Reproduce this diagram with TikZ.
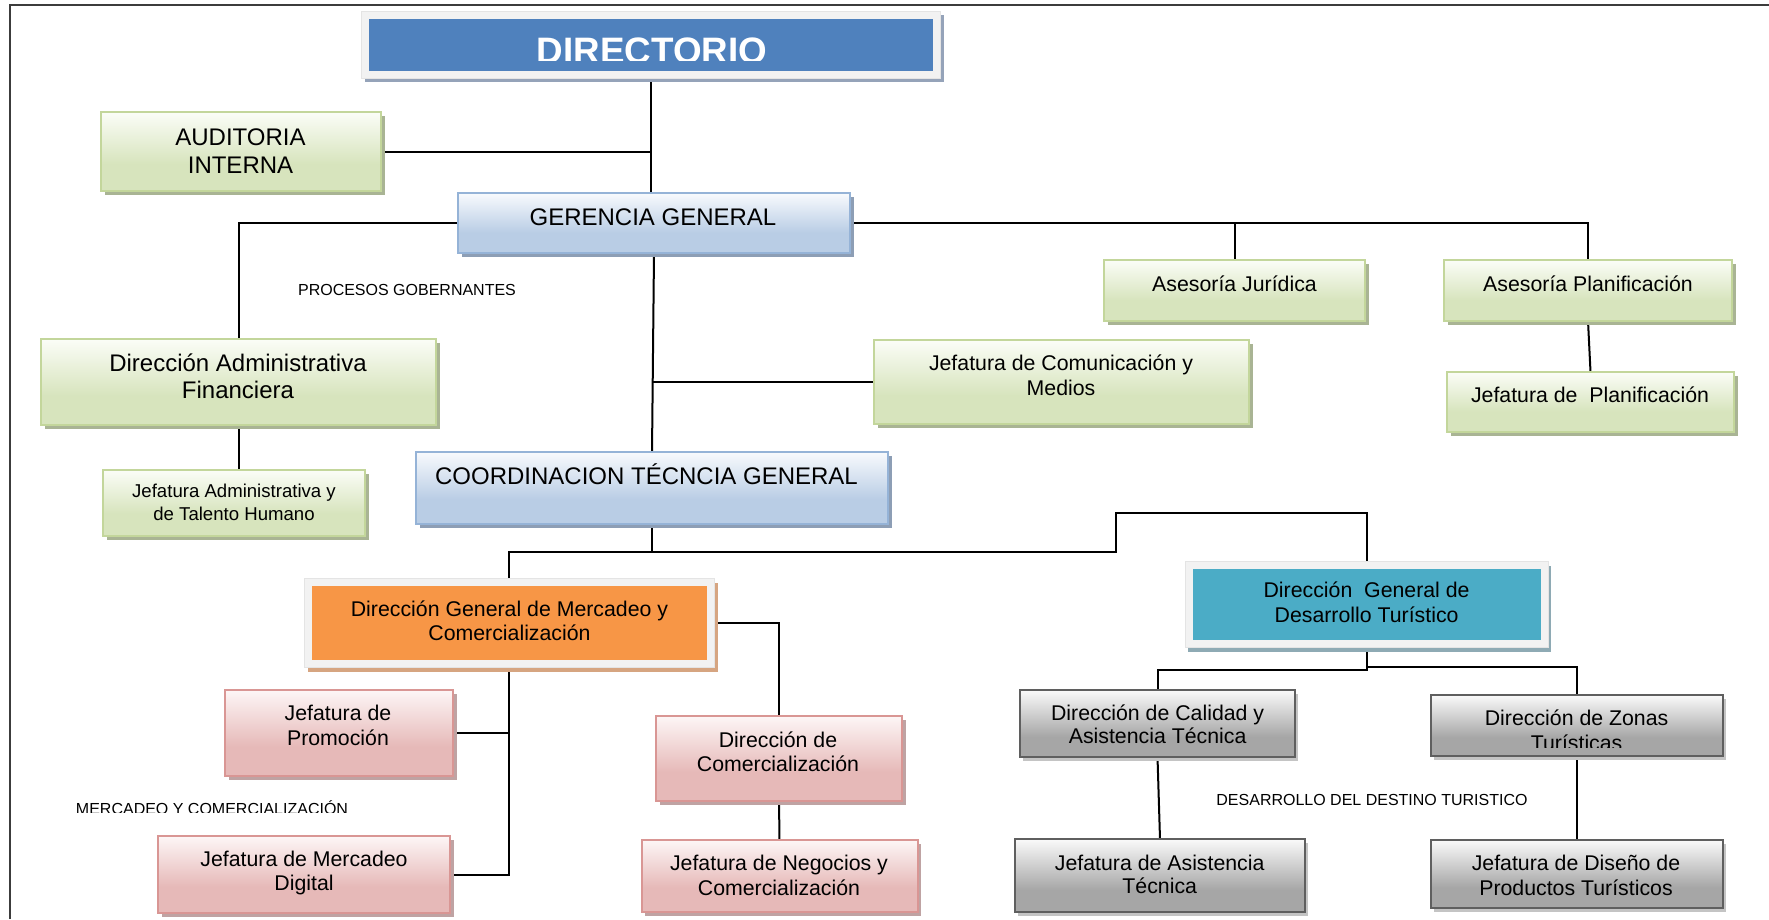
\documentclass[tikz,border=0pt]{standalone}
\usepackage{fontspec}
\setmainfont{Liberation Sans}
\usetikzlibrary{shadows}
\definecolor{grnB}{HTML}{C3D69B}\definecolor{grnF}{HTML}{D7E4BD}\definecolor{grnT}{HTML}{FBFDF7}\definecolor{grnS}{HTML}{A9B494}
\definecolor{bluB}{HTML}{95B3D7}\definecolor{bluF}{HTML}{B9CDE5}\definecolor{bluT}{HTML}{F8FAFD}\definecolor{bluS}{HTML}{8D9EB5}
\definecolor{pnkB}{HTML}{D99694}\definecolor{pnkF}{HTML}{E6B9B8}\definecolor{pnkT}{HTML}{FDF6F6}\definecolor{pnkS}{HTML}{BFA3A3}
\definecolor{gryB}{HTML}{5F5F5F}\definecolor{gryF}{HTML}{A6A6A6}\definecolor{gryT}{HTML}{FAFAFA}\definecolor{gryS}{HTML}{C4C4C4}
\definecolor{frmF}{HTML}{F2F2F2}\definecolor{frmD}{HTML}{E4E4E4}
\definecolor{dirB}{HTML}{4F81BD}\definecolor{dirS}{HTML}{95A3B9}
\definecolor{orgF}{HTML}{F79646}\definecolor{orgS}{HTML}{D6A581}
\definecolor{tealF}{HTML}{4BACC6}\definecolor{tealS}{HTML}{8EAAB4}
\definecolor{frameline}{HTML}{3C3C3C}
\pgfdeclareverticalshading{gsh}{100bp}{color(0bp)=(grnF); color(25bp)=(grnF); color(42bp)=(grnF); color(75bp)=(grnT); color(100bp)=(grnT)}
\pgfdeclareverticalshading{bsh}{100bp}{color(0bp)=(bluF); color(25bp)=(bluF); color(42bp)=(bluF); color(75bp)=(bluT); color(100bp)=(bluT)}
\pgfdeclareverticalshading{psh}{100bp}{color(0bp)=(pnkF); color(25bp)=(pnkF); color(42bp)=(pnkF); color(75bp)=(pnkT); color(100bp)=(pnkT)}
\pgfdeclareverticalshading{ysh}{100bp}{color(0bp)=(gryF); color(25bp)=(gryF); color(40bp)=(gryF); color(75bp)=(gryT); color(100bp)=(gryT)}
\pgfdeclarelayer{bg}
\pgfdeclarelayer{paper}
\pgfsetlayers{paper,bg,main}
\tikzset{
  bx/.style={rectangle, inner sep=0, outer sep=0, line width=2pt},
  gbox/.style={bx, draw=grnB, shading=gsh, general shadow={fill=grnS, shadow xshift=3.5pt, shadow yshift=-4pt}},
  bbox/.style={bx, draw=bluB, shading=bsh, general shadow={fill=bluS, shadow xshift=3.5pt, shadow yshift=-4pt}},
  pbox/.style={bx, draw=pnkB, shading=psh, general shadow={fill=pnkS, shadow xshift=3.5pt, shadow yshift=-4pt}},
  ybox/.style={bx, draw=gryB, shading=ysh, general shadow={fill=gryS, shadow xshift=3pt, shadow yshift=-4pt}},
  framebox/.style={bx, line width=0.8pt, draw=frmD, fill=frmF,
    path picture={\fill[#1] ([shift={(7.5,7.5)}]path picture bounding box.north west) rectangle ([shift={(-7.5,-7.5)}]path picture bounding box.south east);}},
  conn/.style={line width=2pt, black},
  txtm/.style={inner sep=0, outer sep=0, anchor=base, font=\fontsize{21.3}{25}\selectfont},
  txtb/.style={txtm, font=\fontsize{24}{28}\selectfont},
  txts/.style={txtm, font=\fontsize{18.6}{22}\selectfont},
  txtl/.style={txtm, font=\fontsize{16}{19}\selectfont},
}
\begin{document}
\begin{tikzpicture}[x=1pt,y=-1pt]
\useasboundingbox (0,0) rectangle (1769,919);
\begin{pgfonlayer}{paper}
\fill[white] (0,0) rectangle (1769,919);
\draw[frameline, line width=1.3pt] (10,919) -- (10,5) -- (1769,5);
\end{pgfonlayer}

% boxes
\node[framebox=dirB, general shadow={fill=dirS, shadow xshift=3pt, shadow yshift=-4pt}, minimum width=579, minimum height=67] (dir) at (651.25,44.5) {};
\node[gbox, minimum width=280, minimum height=79] (aud) at (241,151.5) {};
\node[bbox, minimum width=392, minimum height=60] (ger) at (654,223) {};
\node[gbox, minimum width=395, minimum height=86] (daf) at (238.5,382) {};
\node[gbox, minimum width=262, minimum height=66] (jath) at (234,503) {};
\node[gbox, minimum width=261, minimum height=61] (aj) at (1234.5,290.5) {};
\node[gbox, minimum width=288, minimum height=61] (ap) at (1588,290.5) {};
\node[gbox, minimum width=287, minimum height=60] (jp) at (1590.5,402) {};
\node[gbox, minimum width=375, minimum height=84] (jcm) at (1061.5,382) {};
\node[bbox, minimum width=472, minimum height=72] (coord) at (652,488) {};
\node[framebox=orgF, general shadow={fill=orgS, shadow xshift=3.5pt, shadow yshift=-4.5pt}, minimum width=410, minimum height=89] (dgm) at (509,622.5) {};
\node[pbox, minimum width=228, minimum height=86] (jpr) at (339,733) {};
\node[pbox, minimum width=292, minimum height=77] (jmd) at (304,874.5) {};
\node[pbox, minimum width=246, minimum height=85] (dc) at (779,758.5) {};
\node[pbox, minimum width=276, minimum height=72] (jnc) at (779.5,876) {};
\node[framebox=tealF, general shadow={fill=tealS, shadow xshift=3pt, shadow yshift=-5pt}, minimum width=363, minimum height=86] (dgd) at (1366.5,604) {};
\node[ybox, minimum width=275, minimum height=67] (dcat) at (1157.5,723.5) {};
\node[ybox, minimum width=292, minimum height=61] (dzt) at (1577,725.5) {};
\node[ybox, minimum width=290, minimum height=73] (jat) at (1160,875.5) {};
\node[ybox, minimum width=292, minimum height=68] (jdp) at (1577,874) {};

% connectors
\coordinate (j1) at (652,552);
\coordinate (j2) at (1116,513);
\begin{pgfonlayer}{bg}
\draw[conn] (dir.south) -- (dir.south |- ger.north);
\draw[conn] (aud.east) -- (aud.east -| dir.south);
\draw[conn] (ger.west) -| (daf.north);
\draw[conn] (ger.east) -| (ap.north);
\draw[conn] (aj.north) -- (aj.north |- ger.east);
\draw[conn] (ap.south) -- (jp.north);
\draw[conn] (daf.south) -- (daf.south |- jath.north);
\draw[conn] (ger.south) -- (coord.north);
\draw[conn] (jcm.west) -- (jcm.west -| coord.north);
\draw[conn] (coord.south) -- (j1) -| (dgm.north);
\draw[conn] (j1) -| (j2) -| (dgd.north);
\draw[conn] (dgm.east) -| (dc.north);
\draw[conn] (dgm.south) |- (jmd.east);
\draw[conn] (jpr.east) -- (jpr.east -| dgm.south);
\draw[conn] (dc.south) -- (jnc.north);
\draw[conn] (dgd.south) -- ++(0,23) -| (dcat.north);
\draw[conn] (dgd.south) -- ++(0,20) -| (dzt.north);
\draw[conn] (dcat.south) -- (jat.north);
\draw[conn] (dzt.south) -- (jdp.north);
\end{pgfonlayer}

% texts
\begin{scope}
\clip (300,0) rectangle (1000,60);
\node[txtm, font=\fontsize{36.8}{40}\selectfont\bfseries, text=white] (dir-t) at (652,63.5) {DIRECTORIO};
\end{scope}
\node[txtb] (aud-t1) at (240.5,145.7) {AUDITORIA};
\node[txtb] (aud-t2) at (240.5,173.3) {INTERNA};
\node[txtb] (ger-t) at (653,225) {GERENCIA GENERAL};
\node[txtl] (proc-t) at (407,295) {PROCESOS GOBERNANTES};
\node[txtb] (daf-t1) at (238,371) {Dirección Administrativa};
\node[txtb] (daf-t2) at (238,398.3) {Financiera};
\node[txts] (jath-t1) at (234,497.7) {Jefatura Administrativa y};
\node[txts] (jath-t2) at (234,520) {de Talento Humano};
\node[txtb] (coord-t) at (646.5,484) {COORDINACION TÉCNCIA GENERAL};
\node[txtm] (aj-t) at (1234.5,291) {Asesoría Jurídica};
\node[txtm] (ap-t) at (1588,291) {Asesoría Planificación};
\node[txtm] (jp-t) at (1590,402.7) {Jefatura de\ \ Planificación};
\node[txtm] (jcm-t1) at (1061,370) {Jefatura de Comunicación y};
\node[txtm] (jcm-t2) at (1061,395) {Medios};
\node[txtm] (dgm-t1) at (509.5,616) {Dirección General de Mercadeo y};
\node[txtm] (dgm-t2) at (509.5,640.7) {Comercialización};
\node[txtm] (jpr-t1) at (338,720) {Jefatura de};
\node[txtm] (jpr-t2) at (338,745) {Promoción};
\begin{scope}
\clip (60,790) rectangle (400,812.7);
\node[txtl] (merc-t) at (212,814.5) {MERCADEO Y COMERCIALIZACIÓN};
\end{scope}
\node[txtm] (jmd-t1) at (304,866.7) {Jefatura de Mercadeo};
\node[txtm] (jmd-t2) at (304,890) {Digital};
\node[txtm] (dc-t1) at (778,747.7) {Dirección de};
\node[txtm] (dc-t2) at (778,771.7) {Comercialización};
\node[txtm] (jnc-t1) at (779,870) {Jefatura de Negocios y};
\node[txtm] (jnc-t2) at (779,895) {Comercialización};
\node[txtm] (dgd-t1) at (1366.6,597.7) {Dirección\ \ General de};
\node[txtm] (dgd-t2) at (1366.6,622.7) {Desarrollo Turístico};
\node[txtm] (dcat-t1) at (1157.6,720) {Dirección de Calidad y};
\node[txtm] (dcat-t2) at (1157.6,743.3) {Asistencia Técnica};
\node[txtm] (dzt-t1) at (1576.6,725.7) {Dirección de Zonas};
\begin{scope}
\clip (1440,730) rectangle (1710,747);
\node[txtm] (dzt-t2) at (1576.6,750.2) {Turísticas};
\end{scope}
\node[txtl] (des-t) at (1372,805) {DESARROLLO DEL DESTINO TURISTICO};
\node[txtm] (jat-t1) at (1159.7,870) {Jefatura de Asistencia};
\node[txtm] (jat-t2) at (1159.7,893.3) {Técnica};
\node[txtm] (jdp-t1) at (1576,870) {Jefatura de Diseño de};
\node[txtm] (jdp-t2) at (1576,895) {Productos Turísticos};
\end{tikzpicture}
\end{document}
